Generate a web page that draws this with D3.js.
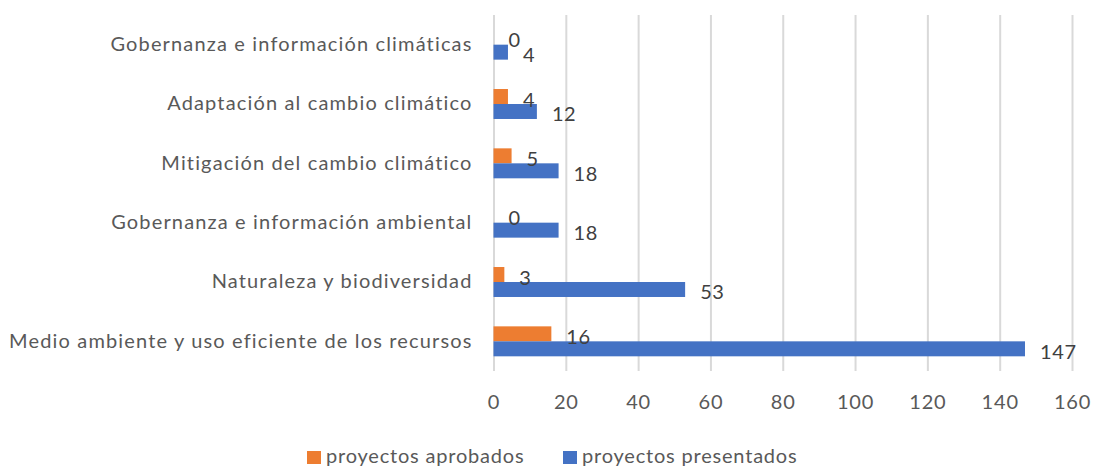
<!DOCTYPE html>
<html>
<head>
<meta charset="utf-8">
<script src="https://cdn.jsdelivr.net/npm/d3@7"></script>
<style>
  body { margin: 0; background: #fff; }
  svg { font-family: Lato, "Liberation Sans", sans-serif; }
  .grid line { stroke: #d9d9d9; stroke-width: 2; }
  .grid .domain { display: none; }
</style>
</head>
<body>
<div id="chart"></div>
<script>
const categories = [
  'Gobernanza e información climáticas',
  'Adaptación al cambio climático',
  'Mitigación del cambio climático',
  'Gobernanza e información ambiental',
  'Naturaleza y biodiversidad',
  'Medio ambiente y uso eficiente de los recursos'
];
const aprobados = [0, 4, 5, 0, 3, 16];
const presentados = [4, 12, 18, 18, 53, 147];
const seriesNames = ['proyectos aprobados', 'proyectos presentados'];
const seriesColors = ['#ed7d31', '#4472c4'];
const xTicks = [0, 20, 40, 60, 80, 100, 120, 140, 160];

const W = 1093, H = 466;
const plotLeft = 493.5, plotRight = 1072, plotTop = 15, plotBottom = 371;

const svg = d3.select('#chart').append('svg')
  .attr('width', W).attr('height', H);

const x = d3.scaleLinear().domain([0, 160]).range([plotLeft, plotRight]);
const y0 = d3.scaleBand().domain(categories).range([plotTop, plotBottom]).padding(0);
const y1 = d3.scaleBand().domain(seriesNames).range([0, y0.bandwidth()])
  .paddingInner(0).paddingOuter(0.98);

// gridlines
svg.append('g')
  .attr('class', 'grid')
  .attr('transform', `translate(0, ${plotBottom})`)
  .call(d3.axisBottom(x).tickValues(xTicks).tickSize(-(plotBottom - plotTop)).tickFormat(''));

// x tick labels
const xAxis = svg.append('g')
  .attr('transform', `translate(0, ${plotBottom})`)
  .call(d3.axisBottom(x).tickValues(xTicks).tickSize(0).tickPadding(24));
xAxis.select('.domain').remove();
xAxis.selectAll('text').attr('font-size', 20).attr('fill', '#595959')
  .attr('letter-spacing', '0.8px')
  .attr('font-family', 'Lato, "Liberation Sans", sans-serif');

// category labels
const yAxis = svg.append('g')
  .attr('transform', `translate(${plotLeft}, 0)`)
  .call(d3.axisLeft(y0).tickSize(0).tickPadding(21));
yAxis.select('.domain').remove();
yAxis.selectAll('text').attr('font-size', 20).attr('fill', '#595959')
  .attr('letter-spacing', '1.15px')
  .attr('font-family', 'Lato, "Liberation Sans", sans-serif');

const rows = categories.map((c, i) => ({
  cat: c,
  vals: [aprobados[i], presentados[i]]
}));

const groups = svg.selectAll('.cat')
  .data(rows)
  .enter()
  .append('g')
  .attr('class', 'cat')
  .attr('transform', d => `translate(0, ${y0(d.cat)})`);

groups.selectAll('rect')
  .data(d => d.vals.map((v, j) => ({ v, s: seriesNames[j], j })))
  .enter()
  .append('rect')
  .attr('x', x(0))
  .attr('y', d => y1(d.s))
  .attr('width', d => x(d.v) - x(0))
  .attr('height', y1.bandwidth())
  .attr('fill', d => seriesColors[d.j]);

groups.selectAll('text.value')
  .data(d => d.vals.map((v, j) => ({ v, s: seriesNames[j], j })))
  .enter()
  .append('text')
  .attr('class', 'value')
  .attr('x', d => x(d.v) + 15)
  .attr('y', d => y1(d.s) + y1.bandwidth() / 2 + 3)
  .attr('dy', '0.35em')
  .attr('font-size', 20)
  .attr('letter-spacing', '0.6px')
  .attr('fill', '#404040')
  .text(d => d.v);

// legend
const legend = svg.append('g');
const legendX = [307, 563];
seriesNames.forEach((s, i) => {
  legend.append('rect')
    .attr('x', legendX[i]).attr('y', 451)
    .attr('width', 14).attr('height', 13)
    .attr('fill', seriesColors[i]);
  legend.append('text')
    .attr('x', legendX[i] + 19).attr('y', 463)
    .attr('font-size', 20).attr('fill', '#595959')
    .attr('letter-spacing', '0.8px')
    .text(s);
});
</script>
</body>
</html>
